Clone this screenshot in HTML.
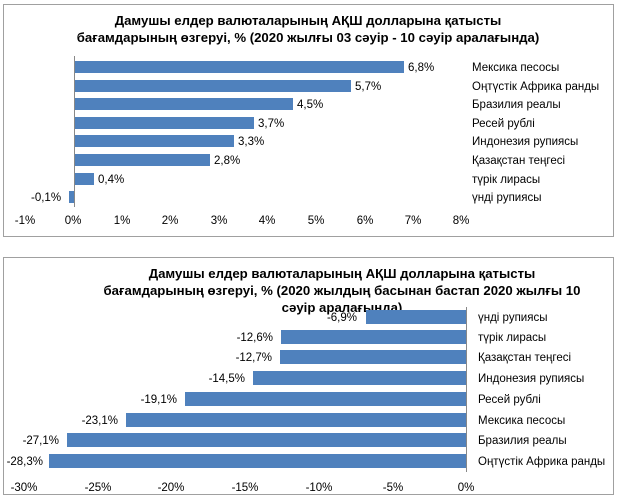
<!DOCTYPE html>
<html><head><meta charset="utf-8"><style>
body{margin:0;background:#fff;}
svg text{font-family:"Liberation Sans",sans-serif;}
</style></head><body>
<svg width="617" height="498" xmlns="http://www.w3.org/2000/svg">
<rect x="3.5" y="4.5" width="610" height="232" fill="#fff" stroke="#a0a0a0"/>
<g font-weight="bold" font-size="13.2" text-anchor="middle" fill="#000">
<text x="308" y="25">Дамушы елдер валюталарының АҚШ долларына қатысты</text>
<text x="308" y="42">бағамдарының өзгеруі, %  (2020 жылғы 03 сәуір - 10 сәуір аралағында)</text>
</g>
<g fill="#4f81bd">
<rect x="74" y="61" width="330" height="12"/>
<rect x="74" y="80" width="277" height="12"/>
<rect x="74" y="98" width="219" height="12"/>
<rect x="74" y="117" width="180" height="12"/>
<rect x="74" y="135" width="160" height="12"/>
<rect x="74" y="154" width="136" height="12"/>
<rect x="74" y="173" width="20" height="12"/>
<rect x="69" y="191" width="5" height="12"/>
</g>
<line x1="74.5" y1="56" x2="74.5" y2="207" stroke="#888"/>
<g font-size="11.5" fill="#000">
<text x="408" y="71">6,8%</text>
<text x="355" y="90">5,7%</text>
<text x="297" y="108">4,5%</text>
<text x="258" y="127">3,7%</text>
<text x="238" y="145">3,3%</text>
<text x="214" y="164">2,8%</text>
<text x="98" y="183">0,4%</text>
<text x="31" y="201">-0,1%</text>
</g>
<g font-size="11.5" fill="#000">
<text x="472" y="71">Мексика песосы</text>
<text x="472" y="90">Оңтүстік Африка ранды</text>
<text x="472" y="108">Бразилия реалы</text>
<text x="472" y="127">Ресей рублі</text>
<text x="472" y="145">Индонезия рупиясы</text>
<text x="472" y="164">Қазақстан теңгесі</text>
<text x="472" y="183">түрік лирасы</text>
<text x="472" y="201">үнді рупиясы</text>
</g>
<g font-size="11.5" fill="#000" text-anchor="middle">
<text x="25" y="224">-1%</text><text x="73" y="224">0%</text><text x="122" y="224">1%</text><text x="170" y="224">2%</text><text x="219" y="224">3%</text><text x="267" y="224">4%</text><text x="316" y="224">5%</text><text x="365" y="224">6%</text><text x="413" y="224">7%</text><text x="461" y="224">8%</text>
</g>

<rect x="3.5" y="257.5" width="610" height="237" fill="#fff" stroke="#a0a0a0"/>
<g font-weight="bold" font-size="13.2" text-anchor="middle" fill="#000">
<text x="342" y="278">Дамушы елдер валюталарының АҚШ долларына қатысты</text>
<text x="342" y="295">бағамдарының өзгеруі, %  (2020 жылдың басынан бастап 2020 жылғы 10</text>
<text x="342" y="312">сәуір аралағында)</text>
</g>
<g fill="#4f81bd">
<rect x="366" y="310" width="100" height="14"/>
<rect x="281" y="330" width="185" height="14"/>
<rect x="280" y="350" width="186" height="14"/>
<rect x="253" y="371" width="213" height="14"/>
<rect x="185" y="392" width="281" height="14"/>
<rect x="126" y="413" width="340" height="14"/>
<rect x="67" y="433" width="399" height="14"/>
<rect x="49" y="454" width="417" height="14"/>
</g>
<line x1="466.5" y1="307" x2="466.5" y2="472" stroke="#888"/>
<g font-size="11.5" fill="#000" text-anchor="end">
<text x="357" y="321">-6,9%</text>
<text x="273" y="341">-12,6%</text>
<text x="272" y="361">-12,7%</text>
<text x="245" y="382">-14,5%</text>
<text x="177" y="403">-19,1%</text>
<text x="118" y="424">-23,1%</text>
<text x="59" y="444">-27,1%</text>
<text x="43" y="465">-28,3%</text>
</g>
<g font-size="11.5" fill="#000">
<text x="478" y="321">үнді рупиясы</text>
<text x="478" y="341">түрік лирасы</text>
<text x="478" y="361">Қазақстан теңгесі</text>
<text x="478" y="382">Индонезия рупиясы</text>
<text x="478" y="403">Ресей рублі</text>
<text x="478" y="424">Мексика песосы</text>
<text x="478" y="444">Бразилия реалы</text>
<text x="478" y="465">Оңтүстік Африка ранды</text>
</g>
<g font-size="11.5" fill="#000" text-anchor="middle">
<text x="24" y="491">-30%</text><text x="98" y="491">-25%</text><text x="171" y="491">-20%</text><text x="245" y="491">-15%</text><text x="319" y="491">-10%</text><text x="393" y="491">-5%</text><text x="466" y="491">0%</text>
</g>
</svg>
</body></html>
